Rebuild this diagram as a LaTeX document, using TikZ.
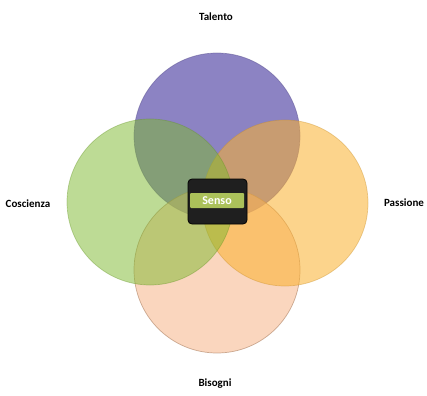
\documentclass[tikz,border=0pt]{standalone}
\usepackage{fontspec}
\setmainfont{Carlito}
\definecolor{cpurple}{HTML}{7064B4}
\definecolor{cgreen}{HTML}{7DB92D}
\definecolor{corange}{HTML}{FBB12E}
\definecolor{cpeach}{HTML}{F6B689}
\definecolor{cbar}{HTML}{ABC15A}
\begin{document}
\begin{tikzpicture}[x=1pt,y=-1pt,
  venn/.style={circle, minimum size=166pt, inner sep=0pt, line width=0.7pt},
  lbl/.style={font=\bfseries\fontsize{11}{13}\selectfont, text=black}]
\useasboundingbox (0,0) rectangle (427,395);
\fill[white] (0,0) rectangle (427,395);
\node[venn, fill=cpurple, fill opacity=0.8, draw=cpurple!80!black, draw opacity=0.5] (talc) at (217,136) {};
\node[venn, fill=cpeach, fill opacity=0.55, draw=cpeach!70!black, draw opacity=0.6] (bisc) at (217,270) {};
\node[venn, fill=corange, fill opacity=0.55, draw=corange!80!black, draw opacity=0.4] (pasc) at (285,203) {};
\node[venn, fill=cgreen, fill opacity=0.5, draw=cgreen!80!black, draw opacity=0.4] (cosc) at (150,202) {};
\node[draw=black, fill=black!88, rounded corners=4pt, minimum width=59pt, minimum height=45pt, line width=0.8pt] (box) at (217.5,201.5) {};
\node[fill=cbar, minimum width=54pt, minimum height=15pt, inner sep=0pt, rounded corners=1pt,
  text=white, font=\bfseries\fontsize{12}{14}\selectfont] (senso) at (217,200.5) {Senso};
\node[lbl] (talento) at (216,17) {Talento};
\node[lbl] (coscienza) at (28,204) {Coscienza};
\node[lbl] (passione) at (404,203) {Passione};
\node[lbl] (bisogni) at (215,384) {Bisogni};
\end{tikzpicture}
\end{document}
